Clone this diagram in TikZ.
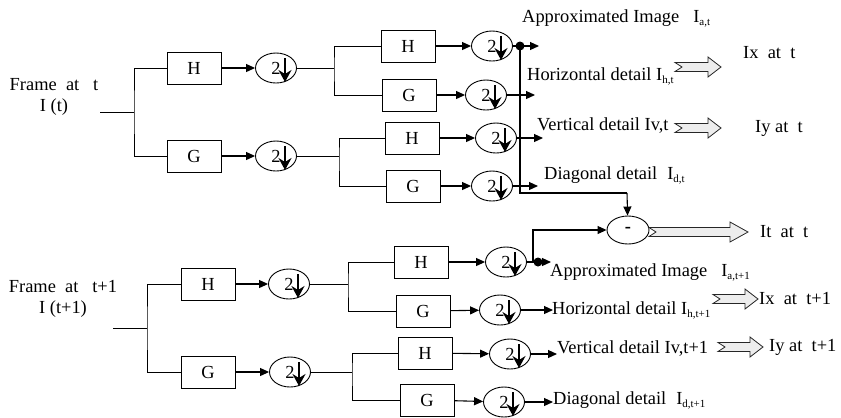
\documentclass[tikz,border=0pt]{standalone}
\usepackage{fontspec}
\setmainfont{Liberation Serif}
\usetikzlibrary{shapes.geometric,arrows.meta,calc}
\newcommand{\sbs}[1]{\raisebox{-3bp}{\fontsize{11}{12}\selectfont #1}}
\newcommand{\mydsamp}[2]{%
  \node[samp] (#1) at (#2) {2\hspace{12bp}};
  \draw[line width=1.5pt,-{Stealth[length=12bp,width=13bp,inset=4bp]}] ($(#1.center)+(9,-10)$) -- ($(#1.center)+(9,14)$);}
\newcommand{\myharrow}[3]{%
  \draw[hollow] let \p1=(#1), \p2=(#2) in
   (\x1,\y1+4.5bp) -- (\x2-#3,\y1+4.5bp) -- (\x2-#3,\y1+10bp) -- (\x2,\y1)
   -- (\x2-#3,\y1-10bp) -- (\x2-#3,\y1-4.5bp) -- (\x1,\y1-4.5bp) -- (\x1+7bp,\y1) -- cycle;}
\begin{document}
\begin{tikzpicture}[x=1bp,y=-1bp,
  every node/.style={font=\fontsize{18.5}{21}\selectfont, inner sep=0pt},
  box/.style={draw, line width=0.8pt, minimum width=54bp, minimum height=32bp},
  samp/.style={draw, ellipse, line width=0.9pt, minimum width=41bp, minimum height=30bp},
  wire/.style={line width=0.8pt},
  arr/.style={line width=1.1pt, -{Triangle[length=9bp,width=8bp]}},
  lbl/.style={anchor=west},
  hollow/.style={draw=black!85, line width=0.8pt, fill=black!7},
]
\useasboundingbox (0,0) rectangle (841,417);

% ---------- top: frame at t ----------
\node[align=center] (ft) at (54,97) {Frame\ \ at\ \ \ t\\I (t)};
\coordinate (in1) at (100,112);
\coordinate (s1) at (134,112);
\node[box] (h1) at (194,68) {H};
\node[box] (g1) at (194,156) {G};
\draw[wire] (in1) -- (s1);
\draw[wire] (h1.west) -| (s1) |- (g1.west);
\mydsamp{e1}{276,68}
\mydsamp{e2}{276,156}
\draw[arr] (h1) -- (e1);
\draw[arr] (g1) -- (e2);

\coordinate (s2) at (334,68);
\node[box] (h2) at (408,46) {H};
\node[box] (g2) at (409,95) {G};
\draw[wire] (e1) -- (s2);
\draw[wire] (h2.west) -| (s2) |- (g2.west);
\mydsamp{e3}{492,46}
\mydsamp{e4}{486,95}
\draw[arr] (h2) -- (e3);
\draw[arr] (g2) -- (e4);

\coordinate (s3) at (339,156);
\node[box] (h3) at (412,138) {H};
\node[box] (g3) at (413,186) {G};
\draw[wire] (e2) -- (s3);
\draw[wire] (h3.west) -| (s3) |- (g3.west);
\mydsamp{e5}{496,138}
\mydsamp{e6}{492,186}
\draw[arr] (h3) -- (e5);
\draw[arr] (g3) -- (e6);

% outputs top
\coordinate (dot1) at (520,46);
\coordinate (o1) at (539,46);
\coordinate (o2) at (535,95);
\coordinate (o3) at (543,138);
\coordinate (o4) at (538,186);
\coordinate (c1) at (627,193);
\draw[arr] (e3) -- (o1);
\fill (dot1) circle (4.5);
\draw[arr] (e4) -- (o2);
\draw[arr] (e5) -- (o3);
\draw[arr] (e6) -- (o4);
\node[samp, minimum width=42bp, minimum height=28bp] (mi) at (628,230) {\textbf{-}};
\draw[line width=1.1pt] (dot1) |- (c1);
\draw[arr] (c1) -- (mi);

\node[lbl] (ta) at (522,18) {Approximated Image\hspace{14bp}I\sbs{a,t}};
\node[lbl] (th) at (527,76) {Horizontal detail I\sbs{h,t}};
\node[lbl] (tv) at (537,126) {Vertical detail Iv,t};
\node[lbl] (td) at (544,175) {Diagonal detail\hspace{10bp}I\sbs{d,t}};

\node[lbl] (ixt) at (743,53) {Ix\ \ at\ \ t};
\node[lbl] (iyt) at (755,128) {Iy at\ \ t};
\node[lbl] (itt) at (760,232) {It\ \ at\ \ t};
\coordinate (ha1) at (675,67); \coordinate (hb1) at (721,67);
\coordinate (ha2) at (675,128); \coordinate (hb2) at (721,128);
\coordinate (ha3) at (649,232); \coordinate (hb3) at (748,232);
\myharrow{ha1}{hb1}{13bp}
\myharrow{ha2}{hb2}{13bp}
\myharrow{ha3}{hb3}{18bp}

% ---------- bottom: frame at t+1 ----------
\node[align=center] (fb) at (63,299) {Frame\ \ at\ \ \ t+1\\I (t+1)};
\coordinate (in2) at (113,328);
\coordinate (s4) at (147,328);
\node[box] (h4) at (208,284) {H};
\node[box] (g4) at (208,372) {G};
\draw[wire] (in2) -- (s4);
\draw[wire] (h4.west) -| (s4) |- (g4.west);
\mydsamp{e7}{289,284}
\mydsamp{e8}{290,372}
\draw[arr] (h4) -- (e7);
\draw[arr] (g4) -- (e8);

\coordinate (s5) at (348,284);
\node[box] (h5) at (421,262) {H};
\node[box] (g5) at (423,311) {G};
\draw[wire] (e7) -- (s5);
\draw[wire] (h5.west) -| (s5) |- (g5.west);
\mydsamp{e9}{506,262}
\mydsamp{e10}{500,310}
\draw[arr] (h5) -- (e9);
\draw[arr] (g5) -- (e10);

\coordinate (s6) at (352,372);
\node[box] (h6) at (425,353) {H};
\node[box] (g6) at (427,400) {G};
\draw[wire] (e8) -- (s6);
\draw[wire] (h6.west) -| (s6) |- (g6.west);
\mydsamp{e11}{510,354}
\mydsamp{e12}{504,402}
\draw[arr] (h6) -- (e11);
\draw[arr] (g6) -- (e12);

% outputs bottom
\coordinate (b1) at (533,262);
\coordinate (p1) at (551,262);
\coordinate (p2) at (553,310);
\coordinate (p3) at (557,354);
\coordinate (p4) at (553,402);
\draw[line width=1.1pt] (e9) -- (b1);
\draw[arr] (b1) -- (p1);
\fill (538,262) circle (4.5);
\draw[arr] (b1) |- (mi);
\draw[arr] (e10) -- (p2);
\draw[arr] (e11) -- (p3);
\draw[arr] (e12) -- (p4);

\node[lbl] (ba) at (550,272) {Approximated Image\hspace{14bp}I\sbs{a,t+1}};
\node[lbl] (bh) at (552,310) {Horizontal detail I\sbs{h,t+1}};
\node[lbl] (bv) at (557,349) {Vertical detail Iv,t+1};
\node[lbl] (bd) at (553,400) {Diagonal detail\hspace{10bp}I\sbs{d,t+1}};

\node[lbl] (ixb) at (759,298) {Ix\ \ at\ \ t+1};
\node[lbl] (iyb) at (769,347) {Iy at\ \ t+1};
\coordinate (ha4) at (713,299); \coordinate (hb4) at (758,299);
\coordinate (ha5) at (718,347); \coordinate (hb5) at (763,347);
\myharrow{ha4}{hb4}{13bp}
\myharrow{ha5}{hb5}{13bp}
\end{tikzpicture}
\end{document}
